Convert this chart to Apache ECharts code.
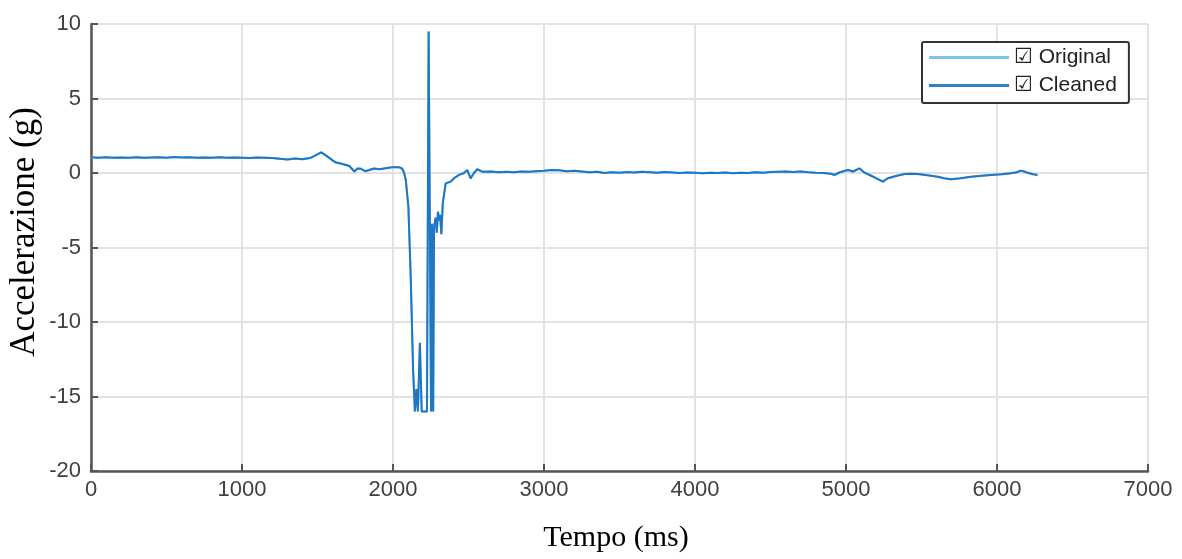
<!DOCTYPE html>
<html>
<head>
<meta charset="utf-8">
<script src="https://cdn.jsdelivr.net/npm/echarts@6/dist/echarts.min.js"></script>
<style>html,body{margin:0;padding:0;background:#fff;}#c{width:1182px;height:559px;}</style>
</head>
<body>
<div id="c"></div>
<script>
// Data
const timeMs = [0,50,100,150,200,250,300,350,400,450,500,550,600,650,700,750,800,850,900,950,1000,1050,1100,1150,1200,1250,1300,1350,1400,1450,1490,1524,1560,1600,1623,1660,1711,1744,1765,1788,1815,1843,1875,1909,1950,1995,2041,2060,2074,2085,2102,2118,2133,2145,2155,2165,2178,2190,2225,2236,2252,2258,2266,2272,2282,2290,2298,2305,2312,2320,2330,2349,2382,2404,2437,2470,2492,2514,2536,2558,2591,2650,2700,2750,2800,2850,2900,2950,3000,3050,3100,3150,3200,3250,3300,3350,3400,3450,3500,3550,3600,3650,3700,3750,3800,3850,3900,3950,4000,4050,4100,4150,4200,4250,4300,4350,4400,4450,4500,4550,4600,4650,4700,4750,4800,4850,4900,4925,4960,5013,5046,5090,5123,5160,5189,5244,5277,5330,5388,5430,5476,5540,5608,5650,5696,5760,5828,5900,5960,6030,6092,6130,6157,6180,6202,6240,6268];
const cleanedG = [1.05,1.03,1.05,1.02,1.04,1.03,1.05,1.02,1.04,1.06,1.03,1.07,1.04,1.05,1.02,1.04,1.03,1.05,1.02,1.04,1.03,1.01,1.04,1.02,1.0,0.95,0.9,0.98,0.92,1.0,1.2,1.38,1.15,0.85,0.7,0.62,0.47,0.1,0.3,0.28,0.12,0.2,0.3,0.25,0.32,0.38,0.38,0.3,0.0,-0.5,-2.3,-7.2,-13.2,-16,-14.5,-16,-11.4,-16,-16,9.5,-16,-3.4,-16,-3.6,-3.0,-4.0,-2.6,-3.2,-2.8,-4.1,-2.0,-0.7,-0.58,-0.35,-0.13,0.0,0.2,-0.36,0.0,0.25,0.09,0.1,0.05,0.08,0.05,0.1,0.08,0.12,0.15,0.2,0.18,0.12,0.15,0.1,0.05,0.08,0.0,0.05,0.02,0.06,0.04,0.08,0.05,0.02,0.06,0.03,0.0,0.03,0.01,-0.02,0.02,0.0,0.03,-0.02,0.02,0.0,0.05,0.02,0.06,0.08,0.1,0.06,0.1,0.05,0.02,0.0,-0.05,-0.13,0.05,0.2,0.1,0.31,0.02,-0.15,-0.29,-0.58,-0.35,-0.2,-0.07,-0.05,-0.07,-0.15,-0.25,-0.35,-0.42,-0.35,-0.25,-0.18,-0.13,-0.08,-0.02,0.05,0.16,0.1,0.02,-0.08,-0.13];
const originalG = cleanedG.slice();
const seriesNames = ['\u2611 Original', '\u2611 Cleaned'];
const xTitle = 'Tempo (ms)';
const yTitle = 'Accelerazione (g)';

const chart = echarts.init(document.getElementById('c'), null, {renderer: 'canvas'});
const pairs = arr => timeMs.map((t, i) => [t, arr[i]]);
const tickFont = {fontFamily: 'Liberation Sans, Arial, sans-serif', fontSize: 22, color: '#404040', formatter: v => String(v)};
chart.setOption({
  animation: false,
  backgroundColor: '#fff',
  grid: {left: 91, right: 34, top: 24, bottom: 88, containLabel: false},
  xAxis: {
    type: 'value', min: 0, max: 7000, interval: 1000,
    axisLine: {show: true, onZero: false, lineStyle: {color: '#555', width: 2.5}},
    axisTick: {show: true, inside: true, length: 7, lineStyle: {color: '#555', width: 2}},
    axisLabel: Object.assign({margin: 8}, tickFont),
    splitLine: {show: true, lineStyle: {color: '#e2e2e2', width: 2}}
  },
  yAxis: {
    type: 'value', min: -20, max: 10, interval: 5,
    axisLine: {show: true, lineStyle: {color: '#555', width: 2.5}},
    axisTick: {show: true, inside: true, length: 7, lineStyle: {color: '#555', width: 2}},
    axisLabel: Object.assign({margin: 10}, tickFont),
    splitLine: {show: true, lineStyle: {color: '#e2e2e2', width: 2}}
  },
  legend: {
    orient: 'vertical', left: 922, top: 42,
    padding: [5, 12, 7, 7], itemGap: 7,
    itemWidth: 80, itemHeight: 3, icon: 'rect',
    backgroundColor: '#fff', borderColor: '#333', borderWidth: 2, borderRadius: 2,
    textStyle: {fontFamily: 'Liberation Sans, Arial, DejaVu Sans, sans-serif', fontSize: 21, color: '#222'},
    data: seriesNames
  },
  graphic: [
    {type: 'text', x: 25, y: 232, rotation: Math.PI / 2,
     style: {text: yTitle, font: '35px "Liberation Serif", "Times New Roman", serif', fill: '#000', align: 'center', verticalAlign: 'middle'}},
    {type: 'text', x: 616, y: 538,
     style: {text: xTitle, font: '30px "Liberation Serif", "Times New Roman", serif', fill: '#000', align: 'center', verticalAlign: 'middle'}}
  ],
  series: [
    {name: seriesNames[0], type: 'line', symbol: 'none', data: pairs(originalG),
     color: '#7cc6ee', lineStyle: {width: 2, color: '#7cc6ee'}, z: 2},
    {name: seriesNames[1], type: 'line', symbol: 'none', data: pairs(cleanedG),
     color: '#2a84c6', lineStyle: {width: 2, color: '#1f77c4'}, z: 3}
  ]
});
</script>
</body>
</html>
